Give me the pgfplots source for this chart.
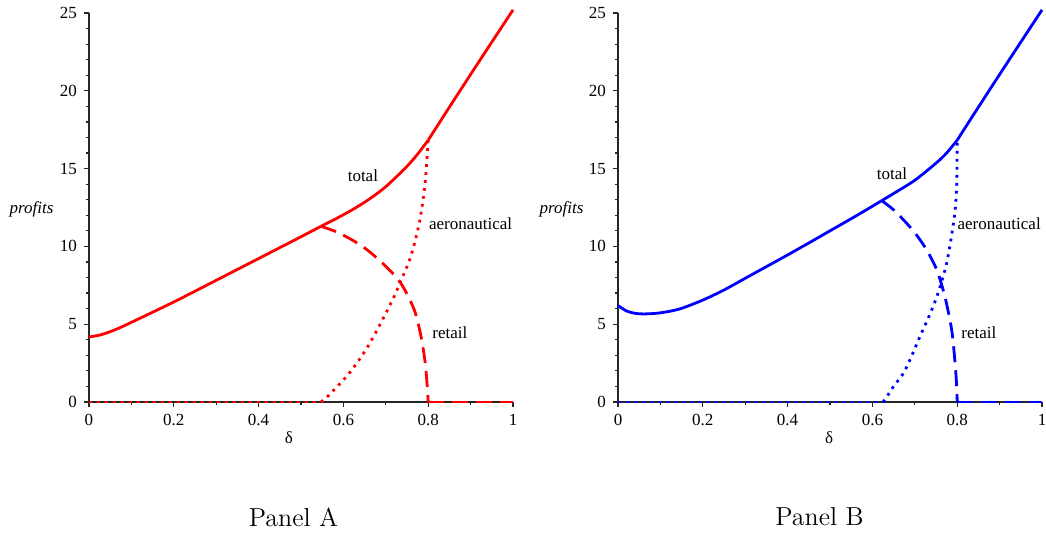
\documentclass[border=0pt]{standalone}
\usepackage{fontspec}
\usepackage{pgfplots}
\pgfplotsset{compat=1.18}
\newfontfamily\tnr{Liberation Serif}
\definecolor{pr}{RGB}{255,0,0}
\definecolor{pb}{RGB}{0,0,255}
\tikzset{
  tot/.style={line width=1.4pt, smooth},
  ret/.style={line width=1.4pt, dash pattern=on 8pt off 4pt},
  aer/.style={line width=1.4pt, dash pattern=on 1.4pt off 2.6pt},
  lab/.style={font=\tnr\fontsize{8.5}{10}\selectfont, inner sep=0pt},
}
\pgfplotsset{
  panel/.style={
    scale only axis, width=212pt, height=194.5pt,
    anchor=south west,
    xmin=0,xmax=1,ymin=0,ymax=25,
    axis lines=left, axis line style={-, line width=0.8pt, black!85},
    xtick={0,0.2,0.4,0.6,0.8,1}, ytick={0,5,10,15,20,25},
    minor x tick num=1, minor y tick num=4,
    tick align=outside, major tick length=2.5pt, minor tick length=1.5pt,
    tick style={black!85, line width=0.6pt},
    ticklabel style={font=\tnr\fontsize{8.5}{10}\selectfont},
    /pgf/number format/assume math mode=true,
    clip=false,
  },
}
\begin{document}
\begin{tikzpicture}[x=0.5pt,y=0.5pt]
\path[use as bounding box] (0,0) rectangle (1046,532);
% Panel A
\begin{axis}[panel, at={(44.5pt,65pt)}]
% total
\addplot[pr, tot] coordinates {
(0.00,4.18) (0.025,4.30) (0.05,4.52) (0.075,4.80) (0.10,5.12) (0.15,5.77)
(0.20,6.43) (0.25,7.12) (0.30,7.82) (0.35,8.52) (0.40,9.22) (0.45,9.92)
(0.50,10.62) (0.547,11.29)};
\addplot[pr, tot] coordinates {
(0.547,11.29) (0.585,11.815) (0.622,12.37) (0.66,13.02) (0.70,13.84)
(0.748,15.09) (0.775,15.93) (0.80,16.83)};
\addplot[pr, tot] coordinates {
(0.80,16.83) (0.85,18.95) (0.90,21.05) (0.95,23.13) (1.00,25.20)};
% aeronautical
\addplot[pr, aer] coordinates {(0,0) (0.547,0)};
\addplot[pr, aer, smooth] coordinates {
(0.547,0) (0.567,0.47) (0.614,1.86) (0.653,3.36) (0.684,4.86) (0.716,6.57)
(0.735,7.75) (0.759,9.36) (0.779,11.5) (0.791,13.64) (0.796,15.2) (0.80,16.83)};
% retail
\addplot[pr, ret, smooth] coordinates {
(0.547,11.29) (0.590,10.86) (0.645,10.0) (0.692,8.93) (0.735,7.65)
(0.767,5.93) (0.783,4.22) (0.793,2.51) (0.798,0.9) (0.80,0)};
\addplot[pr, ret] coordinates {(0.80,0) (1.00,0)};
\node[lab] at (axis cs:0.646,14.52) {total};
\node[lab] at (axis cs:0.900,11.47) {aeronautical};
\node[lab] at (axis cs:0.851,4.45) {retail};
\end{axis}
% Panel B
\begin{axis}[panel, at={(309pt,65pt)}]
\addplot[pb, tot] coordinates {
(0.00,6.20) (0.02,5.85) (0.04,5.70) (0.06,5.66) (0.09,5.70) (0.12,5.82)
(0.15,6.02) (0.20,6.55) (0.25,7.20) (0.30,7.95) (0.35,8.70) (0.40,9.45)
(0.45,10.22) (0.50,11.00) (0.55,11.78) (0.60,12.58) (0.622,12.94)};
\addplot[pb, tot] coordinates {
(0.622,12.94) (0.65,13.40) (0.70,14.25) (0.75,15.35) (0.775,16.00) (0.80,16.83)};
\addplot[pb, tot] coordinates {
(0.80,16.83) (0.85,18.95) (0.90,21.05) (0.95,23.13) (1.00,25.20)};
\addplot[pb, aer] coordinates {(0,0) (0.625,0)};
\addplot[pb, aer, smooth] coordinates {
(0.625,0) (0.634,0.34) (0.65,1.0) (0.673,1.84) (0.69,2.8) (0.712,4.2)
(0.735,5.6) (0.752,6.77) (0.765,7.9) (0.775,8.9) (0.785,10.4) (0.795,12.3)
(0.799,14.2) (0.80,16.83)};
\addplot[pb, ret, smooth] coordinates {
(0.622,12.94) (0.65,12.35) (0.681,11.48) (0.705,10.7) (0.728,9.77)
(0.752,8.48) (0.771,6.77) (0.787,4.63) (0.795,2.49) (0.799,0.9) (0.80,0)};
\addplot[pb, ret] coordinates {(0.80,0) (1.00,0)};
\node[lab] at (axis cs:0.646,14.65) {total};
\node[lab] at (axis cs:0.899,11.47) {aeronautical};
\node[lab] at (axis cs:0.851,4.45) {retail};
\end{axis}
% axis labels
\node[lab] at (289,94) {δ};
\node[lab] at (829,94) {δ};
\node[lab, font=\tnr\itshape\fontsize{8.5}{10}\selectfont] at (31.5,323) {profits};
\node[lab, font=\tnr\itshape\fontsize{8.5}{10}\selectfont] at (561.5,323) {profits};
\node[inner sep=0pt, font=\fontsize{13}{15}\selectfont] at (293.5,15) {Panel A};
\node[inner sep=0pt, font=\fontsize{13}{15}\selectfont] at (819.5,15) {Panel B};
\end{tikzpicture}
\end{document}
